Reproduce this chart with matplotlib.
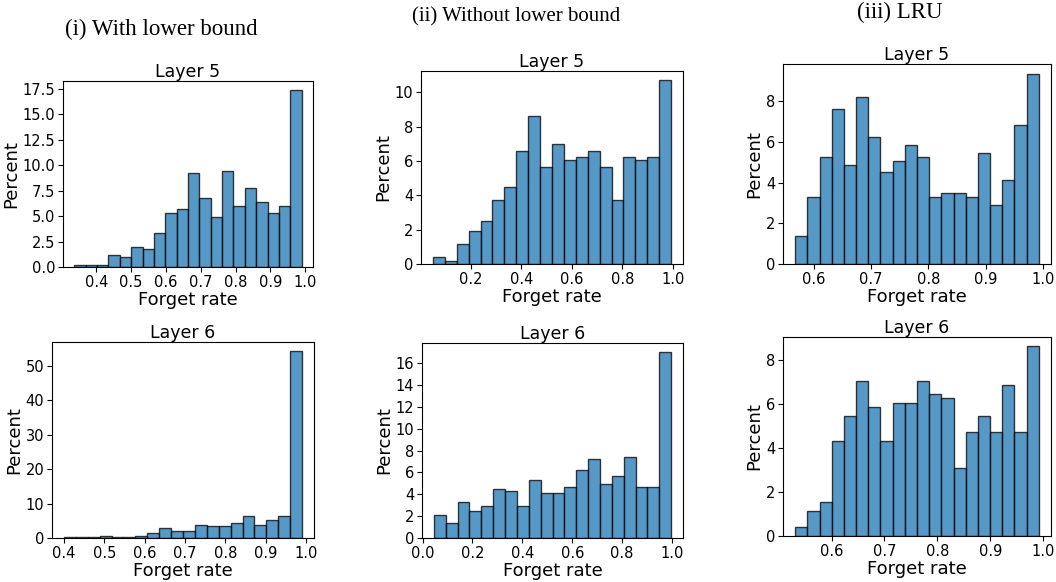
import numpy as np
import matplotlib
matplotlib.use("Agg")
import matplotlib.pyplot as plt
from matplotlib.ticker import MultipleLocator

# ---------------- data (percent per bin) ----------------
with_lb_l5 = [0.2, 0.2, 0.2, 1.2, 1.0, 2.0, 1.8, 3.3, 5.3, 5.7,
              9.2, 6.8, 4.9, 9.4, 6.0, 7.8, 6.4, 5.3, 6.0, 17.4]
with_lb_l5_range = (0.337, 0.990)
with_lb_l6 = [0.2, 0.2, 0.2, 0.5, 0.2, 0.2, 0.6, 1.5, 2.8, 1.9,
              1.9, 3.8, 3.4, 3.4, 4.4, 6.5, 3.8, 5.2, 6.3, 54.2]
with_lb_l6_range = (0.400, 0.990)

without_lb_l5 = [0.4, 0.2, 1.15, 1.95, 2.5, 3.7, 4.5, 6.6, 8.6, 5.65,
                 7.0, 6.05, 6.25, 6.6, 5.65, 3.7, 6.25, 6.05, 6.25, 10.7]
without_lb_l5_range = (0.050, 0.993)
without_lb_l6 = [2.1, 1.35, 3.3, 2.5, 2.9, 4.5, 4.3, 2.9, 5.3, 4.1,
                 4.1, 4.7, 6.25, 7.2, 4.9, 5.65, 7.4, 4.7, 4.7, 17.0]
without_lb_l6_range = (0.045, 0.997)

lru_l5 = [1.35, 3.3, 5.25, 7.6, 4.85, 8.2, 6.25, 4.5, 5.05, 5.85,
          5.25, 3.3, 3.5, 3.5, 3.3, 5.45, 2.9, 4.1, 6.8, 9.35]
lru_l5_range = (0.567, 0.993)
lru_l6 = [0.4, 1.15, 1.55, 4.3, 5.45, 7.05, 5.85, 4.3, 6.05, 6.05,
          7.05, 6.45, 6.25, 3.1, 4.7, 5.45, 4.7, 6.85, 4.7, 8.6]
lru_l6_range = (0.531, 0.992)

column_titles = ["(i) With lower bound", "(ii) Without lower bound", "(iii) LRU"]
layer_titles = ["Layer 5", "Layer 6"]
xlabel = "Forget rate"
ylabel = "Percent"

# ---------------- figure ----------------
W, H = 1056, 582
fig = plt.figure(figsize=(W / 100, H / 100), dpi=100)

bar_face = (0x1f / 255, 0x77 / 255, 0xb4 / 255, 0.75)
bar_edge = (0, 0, 0, 0.75)


def add_ax(left, top, right, bottom):
    return fig.add_axes([left / W, 1 - bottom / H, (right - left) / W, (bottom - top) / H])


panels = [
    (with_lb_l5, with_lb_l5_range, (63, 81, 313, 267), 0, 0.1, 2.5),
    (with_lb_l6, with_lb_l6_range, (52, 342, 314, 538), 1, 0.1, 10),
    (without_lb_l5, without_lb_l5_range, (421, 71, 683, 264), 0, 0.2, 2),
    (without_lb_l6, without_lb_l6_range, (422, 343, 683, 538), 1, 0.2, 2),
    (lru_l5, lru_l5_range, (783, 64, 1051, 264), 0, 0.1, 2),
    (lru_l6, lru_l6_range, (783, 337, 1051, 536), 1, 0.1, 2),
]

for vals, rng, box, li, xstep, ystep in panels:
    ax = add_ax(*box)
    vals = np.asarray(vals)
    edges = np.linspace(rng[0], rng[1], len(vals) + 1)
    ax.hist(edges[:-1], bins=edges, weights=vals,
            facecolor=bar_face, edgecolor=bar_edge, linewidth=1.0)
    ax.xaxis.set_major_locator(MultipleLocator(xstep))
    ax.yaxis.set_major_locator(MultipleLocator(ystep))
    ax.set_title(layer_titles[li], fontsize=12.5, pad=3)
    ax.set_xlabel(xlabel, fontsize=13, labelpad=1)
    ax.set_ylabel(ylabel, fontsize=13, labelpad=2)
    ax.tick_params(labelsize=10.5, length=3.5, pad=2)

fig.text(161 / W, 1 - 29 / H, column_titles[0], fontsize=16.5,
         family="Liberation Serif", ha="center", va="center")
fig.text(516 / W, 1 - 17 / H, column_titles[1], fontsize=15,
         family="Liberation Serif", ha="center", va="center")
fig.text(900 / W, 1 - 12 / H, column_titles[2], fontsize=16.5,
         family="Liberation Serif", ha="center", va="center")

fig.savefig("out.png", dpi=100)
